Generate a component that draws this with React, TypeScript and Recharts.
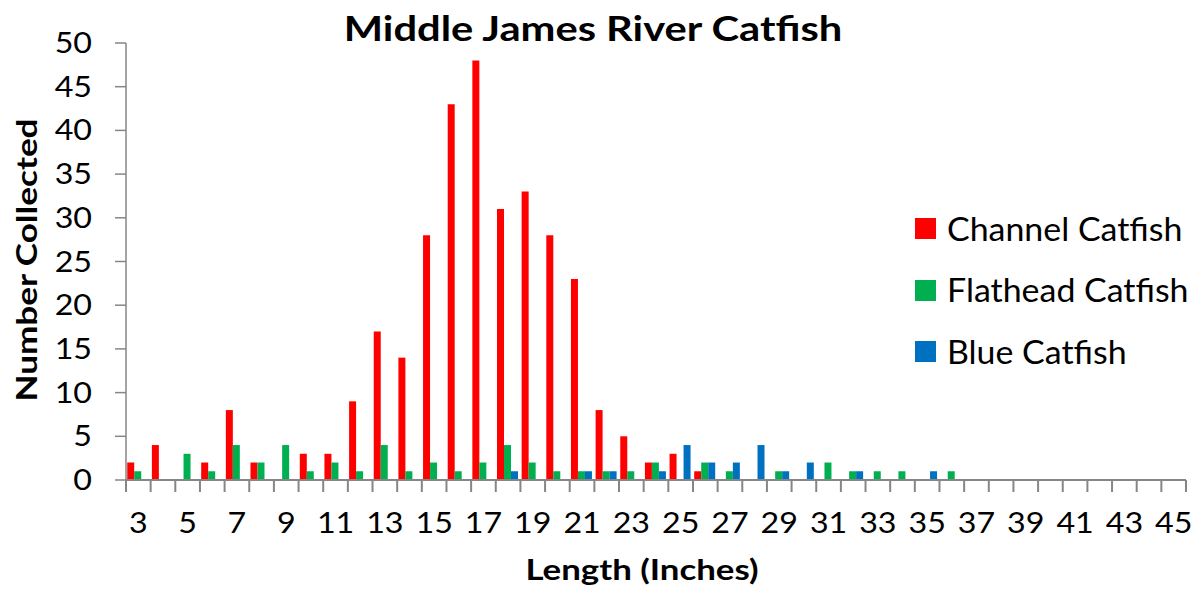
import { BarChart, Bar, XAxis, YAxis, Legend } from 'recharts'

// length classes in inches (3..45)
const LENGTHS = [3, 4, 5, 6, 7, 8, 9, 10, 11, 12, 13, 14, 15, 16, 17, 18, 19, 20, 21, 22, 23, 24,
  25, 26, 27, 28, 29, 30, 31, 32, 33, 34, 35, 36, 37, 38, 39, 40, 41, 42, 43, 44, 45]

const CHANNEL = [2, 4, 0, 2, 8, 2, 0, 3, 3, 9, 17, 14, 28, 43, 48, 31, 33, 28, 23, 8, 5, 2,
  3, 1, 0, 0, 0, 0, 0, 0, 0, 0, 0, 0, 0, 0, 0, 0, 0, 0, 0, 0, 0]
const FLATHEAD = [1, 0, 3, 1, 4, 2, 4, 1, 2, 1, 4, 1, 2, 1, 2, 4, 2, 1, 1, 1, 1, 2,
  0, 2, 1, 0, 1, 0, 2, 1, 1, 1, 0, 1, 0, 0, 0, 0, 0, 0, 0, 0, 0]
const BLUE = [0, 0, 0, 0, 0, 0, 0, 0, 0, 0, 0, 0, 0, 0, 0, 1, 0, 0, 1, 1, 0, 1,
  4, 2, 2, 4, 1, 2, 0, 1, 0, 0, 1, 0, 0, 0, 0, 0, 0, 0, 0, 0, 0]

const Y_TICKS = [0, 5, 10, 15, 20, 25, 30, 35, 40, 45, 50]

const SERIES = [
  { key: 'channel', name: 'Channel Catfish', color: '#FF0000' },
  { key: 'flathead', name: 'Flathead Catfish', color: '#00B050' },
  { key: 'blue', name: 'Blue Catfish', color: '#0070C0' },
]

const data = LENGTHS.map((len, i) => ({
  length: len,
  channel: CHANNEL[i],
  flathead: FLATHEAD[i],
  blue: BLUE[i],
}))

const FONT = 'Lato, "Open Sans", sans-serif'
const AXIS_GRAY = '#868686'

// ticks sit on the category edges, labels on every other category
function LengthTick(props: any) {
  const { x, y, payload, index } = props
  const half = payload.offset ?? 0
  const last = index === LENGTHS.length - 1
  return (
    <g>
      <line x1={x - half} x2={x - half} y1={y - 12} y2={y} stroke={AXIS_GRAY} strokeWidth={2} />
      {last && <line x1={x + half} x2={x + half} y1={y - 12} y2={y} stroke={AXIS_GRAY} strokeWidth={2} />}
      {index % 2 === 0 && (
        <text transform={`translate(${x},${y + 41}) scale(1.15,1)`} textAnchor="middle"
          fontSize={28} fill="#000" fontFamily={FONT}>
          {payload.value}
        </text>
      )}
    </g>
  )
}

function CountTick(props: any) {
  const { x, y, payload } = props
  return (
    <text transform={`translate(${x},${y}) scale(1.15,1)`} dy="0.36em" textAnchor="end"
      fontSize={28} fill="#000" fontFamily={FONT}>
      {payload.value}
    </text>
  )
}

function LegendBox() {
  return (
    <div style={{ fontFamily: FONT }}>
      {SERIES.map(s => (
        <div key={s.key} style={{ display: 'flex', alignItems: 'center', height: 61.5 }}>
          <span style={{ width: 21, height: 21, background: s.color, marginRight: 11, flex: 'none' }} />
          <span style={{
            fontSize: 32, lineHeight: 1, color: '#000', whiteSpace: 'nowrap',
            display: 'inline-block', transform: 'scaleX(1.06)', transformOrigin: 'left center',
          }}>{s.name}</span>
        </div>
      ))}
    </div>
  )
}

const textBase = {
  position: 'absolute' as const, whiteSpace: 'nowrap' as const, fontFamily: FONT,
  fontWeight: 700, color: '#000', lineHeight: 1,
}

export default function App() {
  return (
    <div style={{ position: 'absolute', left: 0, top: 0, width: 1200, height: 594, background: '#fff' }}>
      <div style={{ ...textBase, left: 593, top: 27, fontSize: 35, transform: 'translate(-50%, -50%) scaleX(1.19)' }}>
        Middle James River Catfish
      </div>
      <div style={{ ...textBase, left: 25, top: 260, fontSize: 29, transform: 'translate(-50%, -50%) rotate(-90deg) scaleX(1.21)' }}>
        Number Collected
      </div>
      <div style={{ ...textBase, left: 642, top: 568, fontSize: 29, transform: 'translate(-50%, -50%) scaleX(1.2)' }}>
        Length (Inches)
      </div>
      <BarChart
        width={1200}
        height={594}
        data={data}
        margin={{ top: 43, right: 14, left: 56, bottom: 54 }}
        barCategoryGap="5%"
        barGap={0}
      >
        <XAxis
          dataKey="length"
          height={60}
          interval={0}
          tickLine={false}
          tickSize={12}
          tickMargin={0}
          tick={<LengthTick />}
          axisLine={{ stroke: AXIS_GRAY, strokeWidth: 2 }}
        />
        <YAxis
          width={70}
          domain={[0, 50]}
          ticks={Y_TICKS}
          interval={0}
          tickSize={11}
          tickMargin={23}
          tickLine={{ stroke: AXIS_GRAY, strokeWidth: 1.5 }}
          axisLine={{ stroke: AXIS_GRAY, strokeWidth: 1.5 }}
          tick={<CountTick />}
        />
        <Legend
          layout="vertical"
          align="center"
          verticalAlign="middle"
          wrapperStyle={{ left: 915, top: 198, width: 285 }}
          content={<LegendBox />}
        />
        {SERIES.map(s => (
          <Bar key={s.key} dataKey={s.key} name={s.name} fill={s.color} isAnimationActive={false} />
        ))}
      </BarChart>
    </div>
  )
}
